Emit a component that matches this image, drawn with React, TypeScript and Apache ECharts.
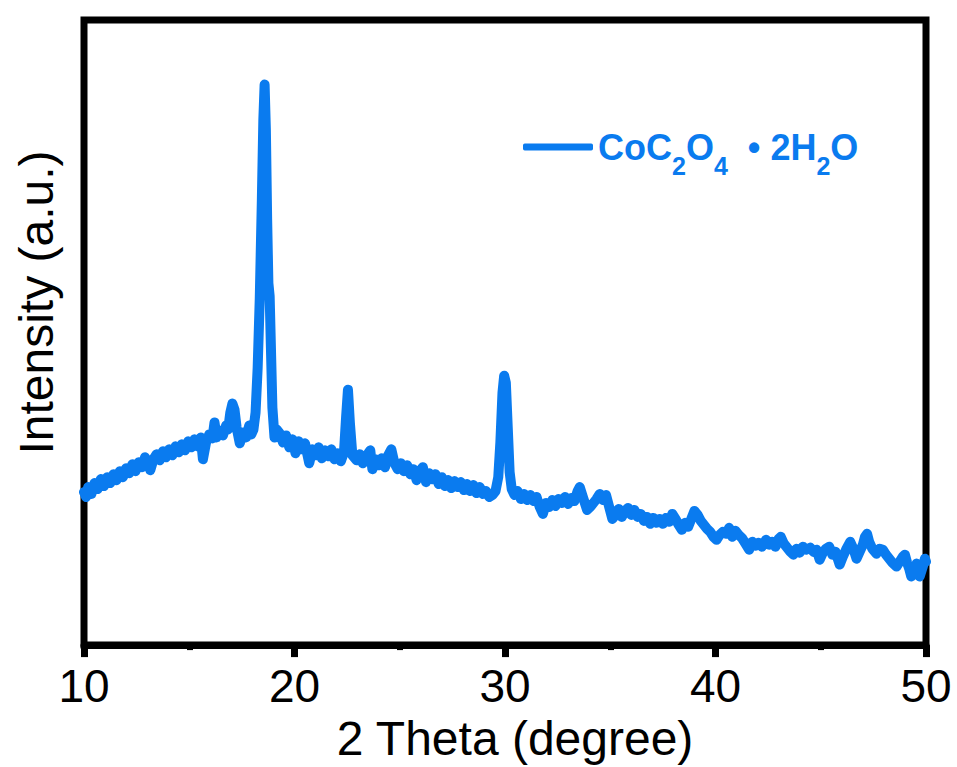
import React, { useEffect, useRef } from "react";
import * as echarts from "echarts";

const twoTheta = [
  10.0, 10.1, 10.2, 10.35, 10.5, 10.65, 10.8, 10.95, 11.1, 11.25, 11.4, 11.55, 11.7, 11.85,
  12.0, 12.15, 12.3, 12.45, 12.6, 12.75, 12.9, 13.05, 13.15, 13.3, 13.45, 13.6, 13.75, 13.9,
  14.05, 14.2, 14.35, 14.5, 14.65, 14.8, 14.95, 15.1, 15.25, 15.4, 15.55, 15.65, 15.8, 15.95,
  16.1, 16.2, 16.3, 16.45, 16.6, 16.75, 16.85, 16.95, 17.05, 17.15, 17.25, 17.4, 17.55, 17.7,
  17.85, 17.95, 18.05, 18.15, 18.25, 18.35, 18.45, 18.52, 18.58, 18.64, 18.7, 18.76, 18.82,
  18.88, 18.95, 19.05, 19.15, 19.3, 19.45, 19.6, 19.75, 19.9, 20.05, 20.2, 20.35, 20.5, 20.7,
  20.85, 21.0, 21.15, 21.3, 21.45, 21.6, 21.75, 21.9, 22.05, 22.2, 22.35, 22.45, 22.54, 22.63,
  22.75, 22.95, 23.1, 23.25, 23.4, 23.6, 23.7, 23.85, 24.0, 24.15, 24.3, 24.45, 24.6, 24.75,
  24.9, 25.05, 25.2, 25.35, 25.5, 25.65, 25.8, 25.95, 26.1, 26.25, 26.4, 26.55, 26.7, 26.85,
  27.0, 27.15, 27.3, 27.45, 27.6, 27.75, 27.9, 28.05, 28.2, 28.35, 28.5, 28.65, 28.8, 28.95,
  29.1, 29.25, 29.4, 29.55, 29.68, 29.78, 29.88, 29.96, 30.04, 30.13, 30.22, 30.32, 30.45,
  30.6, 30.75, 30.9, 31.05, 31.2, 31.35, 31.5, 31.65, 31.8, 31.95, 32.1, 32.25, 32.4, 32.55,
  32.7, 32.85, 33.0, 33.15, 33.3, 33.45, 33.55, 33.7, 33.9, 34.05, 34.2, 34.35, 34.5, 34.65,
  34.8, 34.95, 35.1, 35.25, 35.4, 35.55, 35.7, 35.85, 36.0, 36.15, 36.3, 36.45, 36.6, 36.75,
  36.9, 37.05, 37.2, 37.35, 37.5, 37.65, 37.8, 37.95, 38.1, 38.25, 38.4, 38.55, 38.7, 38.85,
  39.0, 39.15, 39.3, 39.45, 39.6, 39.75, 39.9, 40.05, 40.2, 40.35, 40.5, 40.65, 40.8, 40.95,
  41.1, 41.25, 41.4, 41.6, 41.75, 41.9, 42.05, 42.2, 42.4, 42.55, 42.7, 42.85, 43.0, 43.1,
  43.25, 43.4, 43.55, 43.7, 43.85, 44.0, 44.15, 44.3, 44.5, 44.65, 44.8, 44.95, 45.1, 45.25,
  45.4, 45.55, 45.7, 45.9, 46.05, 46.2, 46.4, 46.55, 46.7, 46.85, 47.0, 47.1, 47.2, 47.3,
  47.45, 47.65, 47.8, 47.95, 48.1, 48.25, 48.4, 48.6, 48.75, 48.9, 49.0, 49.1, 49.2, 49.3,
  49.45, 49.55, 49.7, 49.85, 49.95, 50.0,
];

const intensity = [
  154, 149, 159, 152, 163, 157, 167, 160, 169, 163, 172, 166, 175, 169,
  178, 173, 182, 175, 184, 179, 189, 183, 176, 187, 192, 186, 195, 189,
  197, 191, 200, 194, 202, 196, 205, 199, 207, 200, 209, 187, 204, 212,
  208, 224, 209, 216, 211, 221, 217, 234, 243, 237, 219, 203, 214, 209,
  221, 212, 217, 234, 279, 349, 449, 529, 564, 519, 429, 364, 351,
  299, 239, 209, 217, 213, 204, 211, 199, 207, 193, 205, 197, 203, 183,
  197, 191, 199, 188, 196, 190, 197, 187, 193, 185, 194, 229, 257, 224,
  191, 186, 192, 183, 190, 196, 177, 187, 181, 188, 179, 191, 197, 183,
  177, 183, 175, 181, 172, 177, 166, 175, 179, 164, 173, 167, 172, 162,
  169, 160, 166, 158, 165, 159, 164, 156, 162, 155, 161, 153, 159, 152,
  155, 149, 151, 155, 169, 204, 254, 271, 264, 219, 174, 157, 151,
  155, 147, 152, 146, 151, 145, 149, 139, 132, 143, 139, 146, 140, 147,
  143, 149, 142, 148, 145, 155, 159, 149, 136, 139, 143, 147, 152, 146,
  151, 139, 127, 131, 137, 129, 135, 138, 131, 136, 129, 132, 125, 129,
  122, 128, 123, 127, 122, 128, 124, 132, 127, 121, 116, 123, 119, 127,
  135, 131, 125, 121, 117, 114, 109, 106, 111, 114, 112, 118, 109, 115,
  111, 108, 103, 96, 104, 100, 103, 99, 106, 101, 104, 99, 107, 109,
  102, 98, 94, 91, 97, 93, 99, 96, 98, 94, 96, 86, 93, 97,
  99, 91, 94, 81, 89, 96, 104, 97, 87, 94, 101, 109, 112, 104,
  97, 92, 97, 96, 91, 87, 83, 79, 84, 89, 91, 83, 77, 69,
  77, 82, 69, 79, 87, 84,
];

const xTicks = [10, 20, 30, 40, 50];
const seriesName = "CoC2O4 • 2H2O";
const blue = "#0A7BEF";
const font = "'Liberation Sans', Arial, sans-serif";

export default function App() {
  const ref = useRef<HTMLDivElement>(null);
  useEffect(() => {
    if (!ref.current) return;
    const chart = echarts.init(ref.current, null, { renderer: "svg" });
    const data = twoTheta.map((t, i) => [t, intensity[i]]);
    chart.setOption({
      animation: false,
      backgroundColor: "#ffffff",
      grid: {
        left: 84,
        right: 31,
        top: 20,
        bottom: 118,
        show: true,
        borderWidth: 7,
        borderColor: "#000",
        backgroundColor: "transparent",
        containLabel: false,
      },
      legend: {
        left: 518,
        top: 118,
        itemWidth: 70,
        itemHeight: 7,
        itemGap: 10,
        icon: "roundRect",
        data: [seriesName],
        formatter: () => "{n|CoC}{s|2}{n|O}{s|4}{n|  • 2H}{s|2}{n|O}",
        textStyle: {
          color: blue,
          rich: {
            n: { fontSize: 36, fontWeight: "bold", fontFamily: font, color: blue, lineHeight: 48, verticalAlign: "middle" },
            s: { fontSize: 25, fontWeight: "bold", fontFamily: font, color: blue, lineHeight: 18, padding: [30, 0, 0, 0], verticalAlign: "top" },
          },
        },
      },
      xAxis: {
        type: "value",
        min: xTicks[0],
        max: xTicks[xTicks.length - 1],
        interval: 10,
        name: "2 Theta (degree)",
        nameLocation: "middle",
        nameGap: 56,
        nameTextStyle: { fontSize: 48, color: "#000", fontFamily: font, padding: [0, 0, 0, 20] },
        axisLine: { show: true, lineStyle: { color: "#000", width: 7 } },
        axisTick: { show: true, inside: false, length: 12, lineStyle: { color: "#000", width: 7 } },
        minorTick: { show: true, splitNumber: 2, length: 5, lineStyle: { color: "#000", width: 6 } },
        axisLabel: { fontSize: 46, color: "#000", fontFamily: font, margin: 18 },
        splitLine: { show: false },
      },
      yAxis: {
        type: "value",
        min: 0,
        max: 629,
        name: "Intensity (a.u.)",
        nameLocation: "middle",
        nameGap: 24,
        nameTextStyle: { fontSize: 48, color: "#000", fontFamily: font, padding: [0, 0, 0, 60] },
        axisLine: { show: false },
        axisTick: { show: false },
        axisLabel: { show: false },
        splitLine: { show: false },
      },
      series: [
        {
          name: seriesName,
          type: "line",
          data,
          showSymbol: false,
          symbol: "none",
          color: blue,
          lineStyle: { color: blue, width: 10, cap: "round", join: "round" },
          clip: true,
        },
      ],
    });
    return () => chart.dispose();
  }, []);
  return (
    <div
      ref={ref}
      style={{ position: "fixed", left: 0, top: 0, width: 957, height: 767, background: "#fff" }}
    />
  );
}
